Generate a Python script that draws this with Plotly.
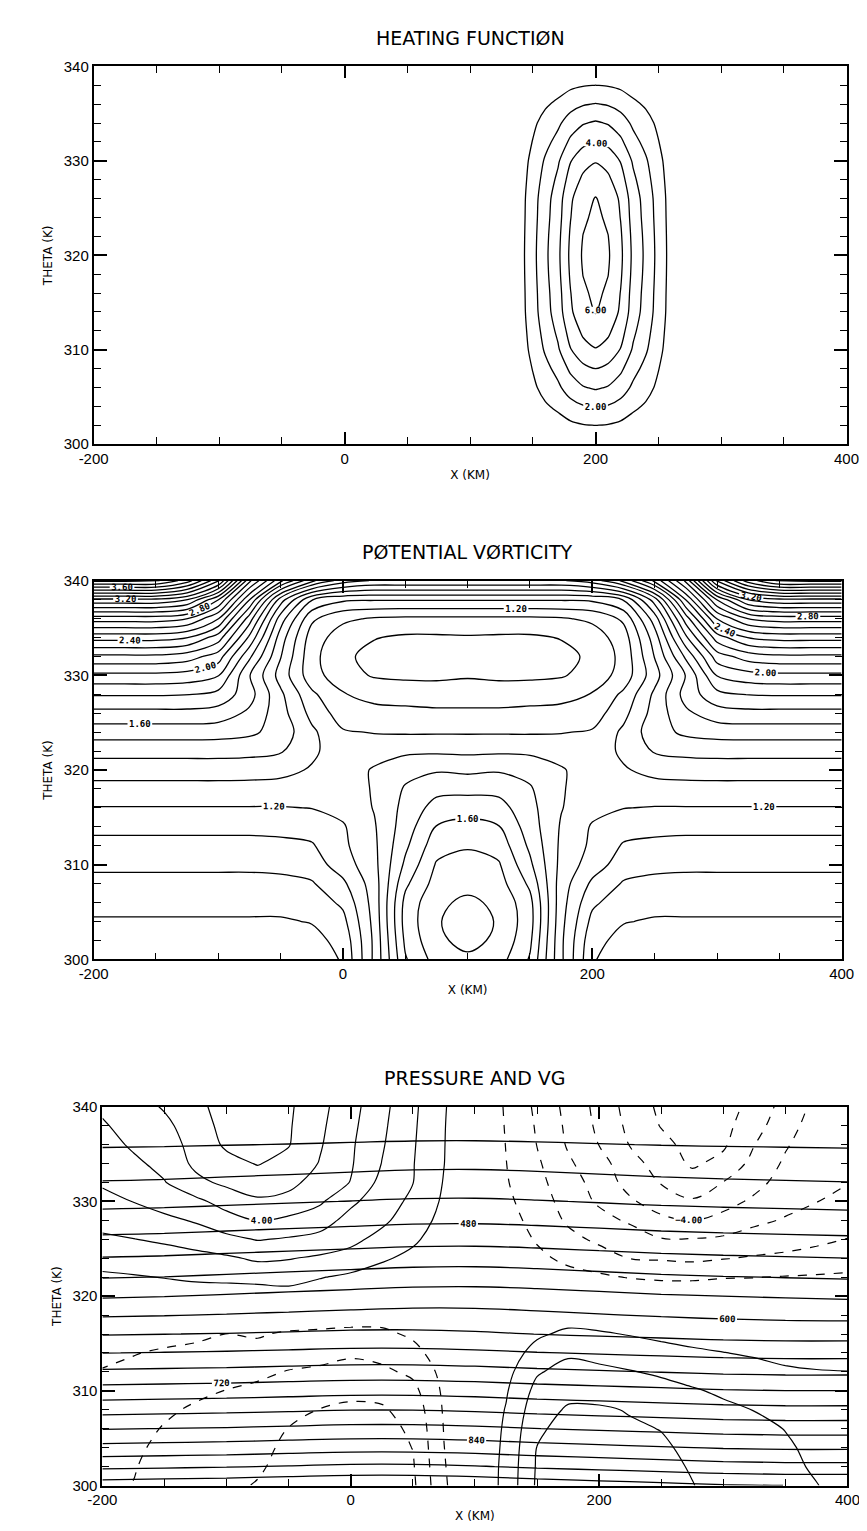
import numpy as np
import plotly.graph_objects as go

W, H = 867, 1531

# ---------------- Panel 1: heating function (profiles) ----------
heat_x_km = [-200, 110, 120, 130, 140, 150, 160, 170, 180, 190, 200, 210, 220, 230, 240,
             250, 260, 270, 280, 290, 400]
heat_x_weight = [0, 0, 0, 0.03, 0.10, 0.26, 0.43, 0.58, 0.80, 0.94, 1.0, 0.94, 0.80, 0.58,
                 0.43, 0.26, 0.10, 0.03, 0, 0, 0]
heat_theta = list(range(300, 341, 2))
heat_theta_weight = [0.0, 0.155, 0.315, 0.48, 0.615, 0.76, 0.85, 0.93, 0.955, 0.985, 1.0,
                     0.985, 0.955, 0.93, 0.85, 0.76, 0.615, 0.48, 0.315, 0.155, 0.0]
heat_peak = 6.5

# ---------------- Panel 2: potential vorticity (rows: theta 300..340, cols: x -200..400) ----
pv_x_km = list(range(-200, 401, 25))
pv_theta = list(range(300, 341, 2))
pv_rows = [
    [0.82,0.82,0.82,0.82,0.82,0.82,0.825,0.84,0.91,1.22,1.59,1.74,1.78,1.74,1.59,1.22,0.91,0.84,0.825,0.82,0.82,0.82,0.82,0.82,0.82],
    [0.85,0.85,0.85,0.85,0.85,0.85,0.855,0.87,0.93,1.22,1.62,1.78,1.83,1.78,1.62,1.22,0.93,0.87,0.855,0.85,0.85,0.85,0.85,0.85,0.85],
    [0.89,0.89,0.89,0.89,0.89,0.89,0.89,0.905,0.97,1.23,1.64,1.79,1.85,1.79,1.64,1.23,0.97,0.905,0.89,0.89,0.89,0.89,0.89,0.89,0.89],
    [0.93,0.93,0.93,0.93,0.93,0.93,0.93,0.94,1.02,1.24,1.63,1.78,1.82,1.78,1.63,1.24,1.02,0.94,0.93,0.93,0.93,0.93,0.93,0.93,0.93],
    [0.97,0.97,0.97,0.97,0.97,0.97,0.975,0.99,1.08,1.25,1.58,1.74,1.77,1.74,1.58,1.25,1.08,0.99,0.975,0.97,0.97,0.97,0.97,0.97,0.97],
    [1.02,1.02,1.02,1.02,1.02,1.02,1.025,1.05,1.15,1.27,1.52,1.71,1.74,1.71,1.52,1.27,1.15,1.05,1.025,1.02,1.02,1.02,1.02,1.02,1.02],
    [1.07,1.07,1.07,1.07,1.07,1.07,1.075,1.09,1.18,1.28,1.48,1.66,1.69,1.66,1.48,1.28,1.18,1.09,1.075,1.07,1.07,1.07,1.07,1.07,1.07],
    [1.125,1.125,1.125,1.125,1.125,1.125,1.13,1.14,1.19,1.29,1.45,1.605,1.63,1.605,1.45,1.29,1.19,1.14,1.13,1.125,1.125,1.125,1.125,1.125,1.125],
    [1.195,1.195,1.195,1.195,1.195,1.195,1.195,1.202,1.23,1.305,1.43,1.54,1.56,1.54,1.43,1.305,1.23,1.202,1.195,1.195,1.195,1.195,1.195,1.195,1.195],
    [1.265,1.265,1.265,1.265,1.265,1.265,1.26,1.25,1.24,1.31,1.41,1.47,1.47,1.47,1.41,1.31,1.24,1.25,1.26,1.265,1.265,1.265,1.265,1.265,1.265],
    [1.345,1.345,1.345,1.345,1.345,1.34,1.33,1.29,1.25,1.31,1.37,1.39,1.38,1.39,1.37,1.31,1.25,1.29,1.33,1.34,1.345,1.345,1.345,1.345,1.345],
    [1.435,1.435,1.435,1.435,1.435,1.43,1.41,1.32,1.24,1.26,1.28,1.285,1.28,1.285,1.28,1.26,1.24,1.32,1.41,1.43,1.435,1.435,1.435,1.435,1.435],
    [1.545,1.545,1.545,1.545,1.54,1.52,1.46,1.32,1.21,1.195,1.19,1.19,1.19,1.19,1.19,1.195,1.21,1.32,1.46,1.52,1.54,1.545,1.545,1.545,1.545],
    [1.67,1.67,1.67,1.67,1.655,1.58,1.44,1.27,1.15,1.13,1.125,1.12,1.12,1.12,1.125,1.13,1.15,1.27,1.44,1.58,1.655,1.67,1.67,1.67,1.67],
    [1.81,1.81,1.81,1.805,1.77,1.64,1.42,1.22,1.105,1.07,1.06,1.05,1.05,1.05,1.06,1.07,1.105,1.22,1.42,1.64,1.77,1.805,1.81,1.81,1.81],
    [1.975,1.975,1.975,1.96,1.905,1.605,1.36,1.14,1.04,0.99,0.98,0.98,0.99,0.98,0.98,0.99,1.04,1.14,1.36,1.605,1.905,1.96,1.975,1.975,1.975],
    [2.18,2.18,2.18,2.15,2.05,1.72,1.405,1.13,1.02,0.97,0.955,0.95,0.95,0.95,0.955,0.97,1.02,1.13,1.405,1.72,2.05,2.15,2.18,2.18,2.18],
    [2.44,2.44,2.44,2.405,2.25,1.88,1.45,1.15,1.05,1.005,0.985,0.985,0.99,0.985,0.985,1.005,1.05,1.15,1.45,1.88,2.25,2.405,2.44,2.44,2.44],
    [2.75,2.75,2.75,2.705,2.505,2.05,1.55,1.22,1.12,1.09,1.08,1.08,1.08,1.08,1.08,1.09,1.12,1.22,1.55,2.05,2.505,2.705,2.75,2.75,2.75],
    [3.18,3.18,3.18,3.105,2.805,2.305,1.75,1.405,1.32,1.31,1.31,1.31,1.31,1.31,1.31,1.31,1.32,1.405,1.75,2.305,2.805,3.105,3.18,3.18,3.18],
    [3.82,3.82,3.82,3.65,3.32,2.62,2.22,1.92,1.75,1.69,1.69,1.69,1.69,1.69,1.69,1.69,1.75,1.92,2.22,2.62,3.32,3.65,3.82,3.82,3.82],
]

# ---------------- Panel 3: pressure (mb) columns, theta 300..340 ----------------
p_x_km = list(range(-200, 401, 50))
p_theta = list(range(300, 341, 2))
pressure_cols = [
    [945.5, 893.5, 848.5, 808.5, 769.5, 731.5, 694.5, 659.5, 628.0, 597.0, 567.0, 538.5, 511.5, 485.5, 462.5, 441.5, 421.5, 404.0, 387.5, 373.0, 362.0],
    [948.1, 895.9, 850.6, 810.5, 771.4, 733.4, 696.3, 661.2, 629.6, 598.9, 569.2, 540.6, 513.5, 487.3, 464.2, 443.0, 422.9, 405.3, 388.2, 373.6, 362.5],
    [950.7, 898.3, 852.7, 812.4, 773.4, 735.2, 698.0, 662.8, 631.1, 601.5, 572.8, 544.1, 516.8, 490.3, 466.9, 445.5, 425.3, 407.4, 389.4, 374.7, 363.4],
    [954.6, 901.9, 855.9, 815.3, 776.2, 738.0, 700.6, 665.3, 633.4, 604.5, 576.4, 547.6, 520.1, 493.3, 469.7, 448.0, 427.6, 409.5, 390.5, 375.7, 364.3],
    [958.5, 905.5, 859.0, 818.3, 779.1, 740.8, 703.3, 667.8, 635.8, 607.5, 580.1, 551.1, 523.5, 496.3, 472.4, 450.5, 430.0, 411.7, 391.7, 376.8, 365.2],
    [958.5, 905.5, 859.0, 818.3, 779.1, 740.8, 703.3, 667.8, 635.8, 609.5, 583.7, 554.6, 526.8, 499.3, 475.2, 453.0, 432.3, 413.8, 392.9, 377.8, 366.1],
    [954.6, 901.9, 855.9, 815.3, 776.2, 738.0, 700.6, 665.3, 633.4, 608.7, 584.4, 555.3, 527.5, 499.9, 475.7, 453.5, 432.8, 414.2, 393.1, 378.0, 366.3],
    [948.1, 895.9, 850.6, 810.5, 771.4, 733.4, 696.3, 661.2, 629.6, 605.3, 581.5, 552.5, 524.8, 497.5, 473.5, 451.5, 430.9, 412.5, 392.2, 377.2, 365.6],
    [942.9, 891.1, 846.4, 806.6, 767.6, 729.7, 692.8, 657.9, 626.5, 601.5, 577.2, 548.3, 520.8, 493.9, 470.2, 448.5, 428.1, 410.0, 390.8, 375.9, 364.5],
    [937.7, 886.3, 842.2, 802.7, 763.7, 726.0, 689.3, 654.6, 623.4, 597.8, 572.8, 544.1, 516.8, 490.3, 466.9, 445.5, 425.3, 407.4, 389.4, 374.7, 363.4],
    [932.5, 881.5, 838.0, 798.8, 759.9, 722.3, 685.8, 651.3, 620.3, 594.8, 569.9, 541.3, 514.2, 487.9, 464.7, 443.5, 423.4, 405.7, 388.4, 373.9, 362.7],
    [929.9, 879.1, 835.9, 796.8, 758.0, 720.4, 684.0, 649.6, 618.7, 592.8, 567.7, 539.2, 512.2, 486.1, 463.1, 442.0, 422.0, 404.4, 387.7, 373.2, 362.2],
    [929.9, 879.1, 835.9, 796.8, 758.0, 720.4, 684.0, 649.6, 618.7, 591.8, 565.6, 537.1, 510.2, 484.3, 461.4, 440.5, 420.6, 403.2, 387.0, 372.6, 361.6],
]

# ---------------- Panel 3: geostrophic wind VG (m/s) columns, theta 300..340 ----------
vg_x_km = list(range(-200, 401, 25))
vg_theta = list(range(300, 341, 2))
vg_cols = [
    [-1.9, -1.8, -1.7, -1.55, -1.4, -1.25, -1.05, -0.8, -0.5, -0.1, 0.4, 0.85, 1.35, 1.85, 2.3, 2.75, 3.1, 3.35, 3.6, 3.9, 4.15],
    [-2.02, -1.95, -1.85, -1.75, -1.6, -1.45, -1.25, -0.95, -0.55, -0.1, 0.45, 0.93, 1.45, 1.98, 2.5, 3.02, 3.45, 3.8, 4.15, 4.35, 4.55],
    [-2.35, -2.3, -2.2, -2.05, -1.88, -1.7, -1.5, -1.15, -0.6, -0.05, 0.5, 1.03, 1.55, 2.15, 2.75, 3.45, 3.95, 4.3, 4.45, 4.75, 5.1],
    [-2.6, -2.55, -2.45, -2.3, -2.1, -1.85, -1.6, -1.3, -0.75, -0.1, 0.55, 1.15, 1.7, 2.4, 3.1, 3.75, 4.75, 5.2, 5.4, 5.55, 5.7],
    [-2.85, -2.75, -2.65, -2.5, -2.3, -2.02, -1.7, -1.4, -1.02, -0.1, 0.55, 1.2, 1.85, 2.75, 3.6, 4.4, 5.2, 5.7, 6.15, 6.3, 6.45],
    [-3.05, -2.9, -2.8, -2.65, -2.45, -2.2, -1.8, -1.35, -0.9, -0.15, 0.5, 1.3, 2.15, 3.05, 4.02, 4.85, 5.5, 6.05, 6.3, 6.5, 6.7],
    [-3.3, -3.25, -3.15, -3.02, -2.75, -2.45, -2.05, -1.55, -1.15, -0.2, 0.6, 1.35, 2.05, 2.9, 3.8, 4.65, 5.3, 5.7, 6.05, 6.1, 6.15],
    [-3.5, -3.45, -3.35, -3.2, -3.02, -2.6, -2.15, -1.7, -1.2, -0.4, 0.45, 1.05, 1.85, 2.7, 3.45, 4.15, 4.55, 4.95, 5.1, 5.2, 5.3],
    [-3.6, -3.57, -3.5, -3.35, -3.15, -2.8, -2.35, -1.85, -1.25, -0.55, 0.15, 0.8, 1.65, 2.25, 2.65, 3.2, 3.97, 4.1, 4.15, 4.25, 4.35],
    [-3.55, -3.52, -3.45, -3.3, -3.1, -2.75, -2.2, -1.7, -1.2, -0.6, 0.02, 0.6, 1.12, 1.7, 2.2, 2.45, 2.7, 2.98, 3.1, 3.2, 3.3],
    [-3.2, -3.1, -2.98, -2.85, -2.65, -2.3, -1.8, -1.3, -0.85, -0.55, -0.15, 0.3, 0.78, 1.15, 1.5, 1.8, 2.02, 2.05, 2.1, 2.15, 2.2],
    [-1.15, -1.08, -1.02, -0.97, -0.9, -0.82, -0.7, -0.5, -0.35, -0.2, -0.05, 0.15, 0.35, 0.55, 0.7, 0.85, 0.95, 1.02, 1.04, 1.06, 1.1],
    [0.1, 0.1, 0.1, 0.1, 0.1, 0.08, 0.06, 0.04, 0.02, 0.01, -0.02, -0.04, -0.05, -0.06, -0.06, -0.06, -0.06, -0.06, -0.06, -0.06, -0.06],
    [1.3, 1.28, 1.22, 1.15, 1.05, 0.9, 0.7, 0.5, 0.3, 0.1, -0.05, -0.2, -0.35, -0.5, -0.65, -0.8, -0.92, -0.98, -1.02, -1.06, -1.1],
    [3.15, 3.1, 3.02, 2.85, 2.6, 2.3, 1.9, 1.35, 0.85, 0.3, -0.15, -0.5, -0.8, -1.08, -1.3, -1.5, -1.7, -1.85, -2.02, -2.1, -2.2],
    [3.5, 3.45, 3.4, 3.3, 3.1, 2.75, 2.35, 1.85, 1.2, 0.55, -0.05, -0.7, -1.2, -1.7, -2.15, -2.4, -2.6, -2.85, -3.1, -3.2, -3.3],
    [3.5, 3.48, 3.42, 3.3, 3.1, 2.7, 2.25, 1.65, 1.1, 0.5, -0.2, -0.85, -1.55, -2.2, -2.65, -3.15, -3.35, -3.6, -4.02, -4.2, -4.3],
    [3.35, 3.32, 3.25, 3.1, 2.95, 2.5, 2.05, 1.5, 0.95, 0.45, -0.2, -1.05, -2.02, -2.45, -3.15, -3.85, -4.4, -4.65, -5.05, -5.25, -5.4],
    [3.2, 3.17, 3.1, 2.98, 2.7, 2.35, 1.85, 1.3, 0.8, 0.35, -0.3, -1.15, -2.1, -2.95, -3.75, -4.55, -5.05, -5.4, -5.7, -6.05, -6.2],
    [3.02, 2.95, 2.85, 2.7, 2.45, 2.1, 1.6, 1.15, 0.65, 0.2, -0.35, -1.15, -2.2, -2.95, -4.02, -4.9, -5.55, -6.15, -6.35, -6.5, -6.6],
    [2.78, 2.72, 2.62, 2.45, 2.2, 1.85, 1.45, 1.02, 0.55, 0.15, -0.35, -1.05, -2.05, -2.85, -3.65, -4.4, -4.98, -5.7, -6.15, -6.3, -6.4],
    [2.5, 2.45, 2.35, 2.2, 1.98, 1.65, 1.3, 0.9, 0.5, 0.1, -0.4, -1.02, -1.9, -2.6, -3.2, -3.8, -4.35, -4.7, -5.02, -5.4, -5.7],
    [2.2, 2.15, 2.1, 1.98, 1.65, 1.4, 1.1, 0.8, 0.45, 0.1, -0.35, -0.95, -1.8, -2.4, -2.92, -3.3, -3.55, -3.85, -4.1, -4.35, -4.6],
    [2.02, 1.92, 1.82, 1.68, 1.5, 1.3, 1.05, 0.65, 0.35, 0.05, -0.35, -0.9, -1.65, -2.2, -2.6, -3.02, -3.15, -3.3, -3.45, -3.6, -3.75],
    [1.78, 1.72, 1.63, 1.52, 1.38, 1.2, 1.02, 0.6, 0.3, 0.02, -0.35, -0.85, -1.45, -1.98, -2.4, -2.75, -3.03, -3.12, -3.2, -3.3, -3.4],
]

x_tick_vals = [-200, 0, 200, 400]
x_tick_text = ["-200", "0", "200", "400"]
y_tick_vals = [300, 310, 320, 330, 340]
panel_titles = ["HEATING FUNCTIØN", "PØTENTIAL VØRTICITY", "PRESSURE AND VG"]

# ---------------- build grids ----------------
heat_z = heat_peak * np.outer(heat_theta_weight, heat_x_weight)
pv_z = np.array(pv_rows)
p_z = np.array(pressure_cols).T
vg_z = np.array(vg_cols).T

LABEL_FONT = dict(family="DejaVu Sans Mono", size=9, color="black", weight="bold")


def iso(x, y, z, start, end, size, xa, ya, label=False, fmt=".2f", dash="solid",
        smooth=1.0, width=1.3):
    return go.Contour(
        x=x, y=y, z=z, xaxis=xa, yaxis=ya, autocontour=False,
        contours=dict(start=start, end=end, size=size, coloring="none",
                      showlabels=label, labelfont=LABEL_FONT, labelformat=fmt),
        line=dict(color="black", width=width, dash=dash, smoothing=smooth),
        showscale=False, hoverinfo="skip")


traces = []
# heating
traces.append(iso(heat_x_km, heat_theta, heat_z, 1, 5, 2, "x", "y", smooth=0.7))
traces.append(iso(heat_x_km, heat_theta, heat_z, 2, 6, 2, "x", "y", label=True, smooth=0.7))
# potential vorticity
traces.append(iso(pv_x_km, pv_theta, pv_z, 0.9, 3.75, 0.4, "x2", "y2"))
traces.append(iso(pv_x_km, pv_theta, pv_z, 1.0, 3.85, 0.4, "x2", "y2"))
traces.append(iso(pv_x_km, pv_theta, pv_z, 1.1, 3.55, 0.4, "x2", "y2"))
traces.append(iso(pv_x_km, pv_theta, pv_z, 1.2, 3.65, 0.4, "x2", "y2", label=True))
# pressure
traces.append(iso(p_x_km, p_theta, p_z, 390, 875, 120, "x3", "y3"))
traces.append(iso(p_x_km, p_theta, p_z, 420, 905, 120, "x3", "y3"))
traces.append(iso(p_x_km, p_theta, p_z, 450, 935, 120, "x3", "y3"))
traces.append(iso(p_x_km, p_theta, p_z, 480, 845, 120, "x3", "y3", label=True, fmt=".0f"))
# VG positive (solid) and negative (dashed); zero line not drawn
traces.append(iso(vg_x_km, vg_theta, vg_z, 1, 3, 1, "x3", "y3", width=1.2))
traces.append(iso(vg_x_km, vg_theta, vg_z, 5, 7, 1, "x3", "y3", width=1.2))
traces.append(iso(vg_x_km, vg_theta, vg_z, 4, 7, 10, "x3", "y3", label=True, width=1.2))
traces.append(iso(vg_x_km, vg_theta, vg_z, -7, -5, 1, "x3", "y3", dash="dash", width=1.2))
traces.append(iso(vg_x_km, vg_theta, vg_z, -3, -1, 1, "x3", "y3", dash="dash", width=1.2))
traces.append(iso(vg_x_km, vg_theta, vg_z, -4, -1, 10, "x3", "y3", label=True, dash="dash", width=1.2))

fig = go.Figure(traces)

TICK_FONT = dict(family="Liberation Sans, DejaVu Sans, sans-serif", size=15, color="black")
AX_TITLE_FONT = dict(family="DejaVu Sans, sans-serif", size=12, color="black")

# panel pixel boxes: (left, right, top, bottom)
boxes = [(73, 851, 50, 432), (73, 846, 570, 953), (82, 852, 1102, 1485)]

layout = dict(width=W, height=H, margin=dict(l=0, r=0, t=0, b=0), autosize=False,
              paper_bgcolor="white", plot_bgcolor="white", showlegend=False,
              hovermode=False, annotations=[])

for i, (l, r, t, b) in enumerate(boxes):
    sfx = "" if i == 0 else str(i + 1)
    xdom = [l / W, r / W]
    ydom = [1 - b / H, 1 - t / H]
    layout["xaxis" + sfx] = dict(
        domain=xdom, anchor="y" + sfx, range=[-200, 400], showgrid=False, zeroline=False,
        showline=True, linecolor="black", linewidth=1.8, mirror="allticks",
        ticks="inside", ticklen=12, tickwidth=1.5, tickcolor="black",
        tickmode="array", tickvals=x_tick_vals, ticktext=x_tick_text, tickfont=TICK_FONT,
        minor=dict(tickmode="linear", tick0=-200, dtick=50, ticks="inside", ticklen=7,
                   tickwidth=1.3, tickcolor="black", showgrid=False),
        title=dict(text="X (KM)", font=AX_TITLE_FONT, standoff=4))
    layout["yaxis" + sfx] = dict(
        domain=ydom, anchor="x" + sfx, range=[300, 340], showgrid=False, zeroline=False,
        showline=True, linecolor="black", linewidth=1.8, mirror="allticks",
        ticks="inside", ticklen=13, tickwidth=1.5, tickcolor="black",
        tickmode="array", tickvals=y_tick_vals, tickfont=TICK_FONT,
        minor=dict(tickmode="linear", tick0=300, dtick=2, ticks="inside", ticklen=7,
                   tickwidth=1.3, tickcolor="black", showgrid=False),
        title=dict(text="THETA (K)", font=AX_TITLE_FONT, standoff=8))
    layout["annotations"].append(dict(
        text=panel_titles[i], xref="paper", yref="paper",
        x=((l + r) / 2) / W, y=1 - (t - 29) / H, xanchor="center", yanchor="middle",
        showarrow=False, font=dict(family="DejaVu Sans, sans-serif", size=19, color="black")))

fig.update_layout(**layout)
fig.write_html("out.html")
